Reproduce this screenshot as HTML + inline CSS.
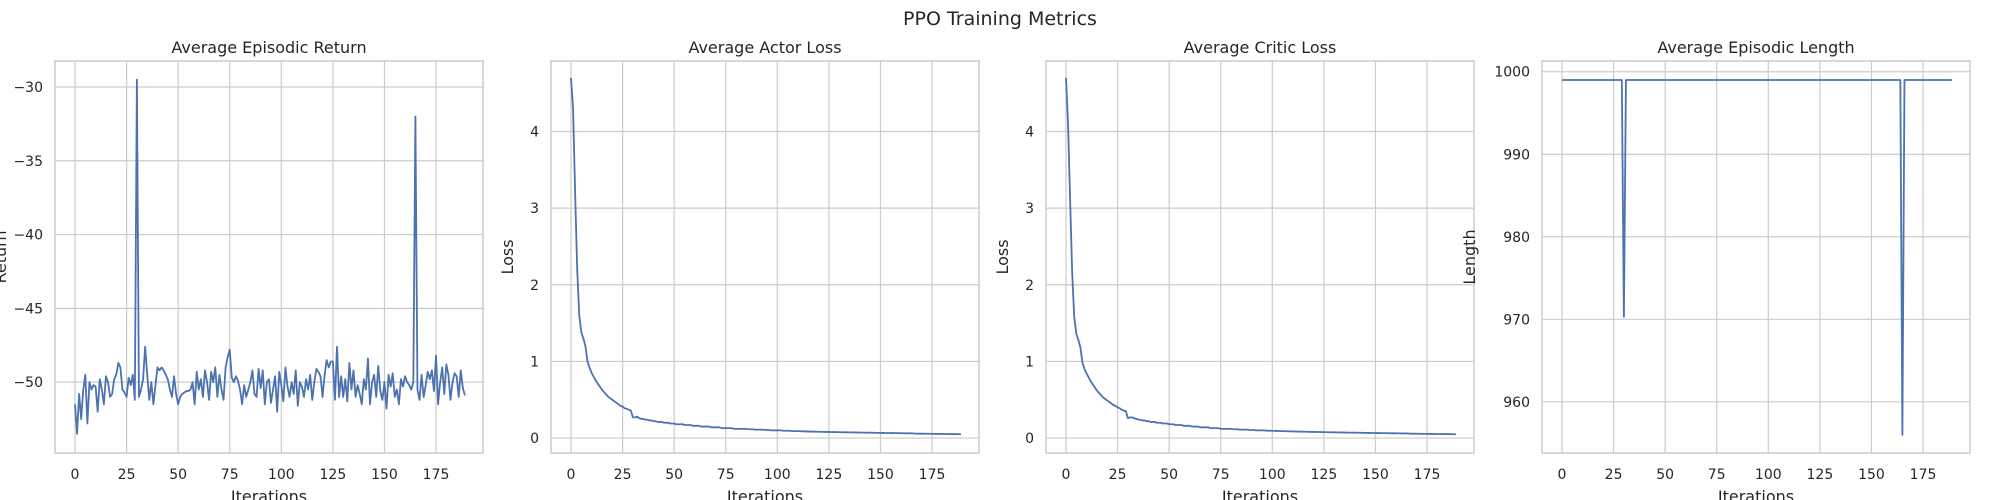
<!DOCTYPE html>
<html><head><meta charset="utf-8">
<style>
html,body{margin:0;padding:0;background:#fff;}
svg{display:block;font-family:"DejaVu Sans","Liberation Sans",sans-serif;}
</style></head>
<body>
<svg id="fig" width="2000" height="500" viewBox="0 0 2000 500">
<text x="1000" y="25" text-anchor="middle" font-size="19" fill="#262626">PPO Training Metrics</text>
</svg>
<script>
const iterTicks = [0,25,50,75,100,125,150,175];
const returnValues = [-51.5,-53.5,-50.8,-52.5,-50.5,-49.5,-52.8,-50.0,-50.5,-50.2,
-50.3,-52.0,-49.8,-50.5,-51.5,-49.6,-50.0,-51.0,-50.8,-49.8,
-49.5,-48.7,-49.0,-50.5,-50.7,-51.0,-49.7,-50.2,-49.5,-51.2,
-29.5,-51.0,-50.5,-49.8,-47.6,-49.5,-51.2,-50.0,-51.5,-50.2,
-49.0,-49.2,-49.0,-49.2,-49.5,-49.8,-50.5,-51.0,-49.6,-50.8,
-51.5,-51.0,-50.8,-50.7,-50.6,-50.6,-50.5,-50.0,-51.5,-49.3,
-50.5,-49.8,-51.0,-49.2,-50.0,-51.2,-49.3,-50.0,-49.0,-51.0,
-49.5,-50.5,-51.2,-49.0,-48.3,-47.8,-49.7,-50.0,-49.6,-49.9,
-50.5,-51.5,-50.2,-51.0,-50.5,-50.0,-49.2,-50.8,-51.0,-49.1,
-50.4,-49.2,-51.5,-50.0,-49.8,-51.4,-50.5,-49.6,-52.0,-49.3,
-50.2,-51.3,-49.0,-50.3,-51.0,-50.0,-50.8,-49.2,-51.6,-50.0,
-50.3,-51.0,-49.8,-50.5,-49.5,-51.2,-50.0,-49.1,-49.3,-49.6,
-51.0,-49.5,-48.5,-49.0,-48.6,-48.6,-51.2,-47.6,-51.0,-49.6,
-51.0,-49.8,-51.3,-48.7,-50.5,-49.2,-51.0,-50.2,-50.8,-51.5,
-49.8,-50.5,-48.4,-51.5,-50.0,-49.5,-51.0,-48.9,-50.6,-51.2,
-50.0,-51.8,-49.5,-50.3,-49.4,-51.0,-50.5,-51.5,-49.8,-50.3,
-49.6,-50.0,-50.2,-50.5,-50.0,-32.0,-50.5,-51.2,-49.5,-51.0,
-50.2,-49.3,-49.8,-49.2,-50.6,-48.2,-51.5,-50.0,-49.0,-50.8,
-48.8,-49.5,-51.2,-50.0,-49.4,-49.6,-51.0,-49.2,-50.4,-50.9];
const actorLoss = [4.7,4.3,3.2,2.2,1.6,1.38,1.3,1.2,1.0,0.92,
0.85,0.8,0.75,0.71,0.67,0.63,0.6,0.57,0.54,0.52,
0.5,0.48,0.46,0.44,0.42,0.41,0.39,0.38,0.37,0.36,
0.27,0.27,0.28,0.26,0.25,0.25,0.24,0.24,0.23,0.23,
0.22,0.22,0.21,0.21,0.21,0.2,0.2,0.2,0.19,0.19,
0.19,0.18,0.18,0.18,0.18,0.17,0.17,0.17,0.17,0.16,
0.16,0.16,0.16,0.15,0.15,0.15,0.15,0.15,0.14,0.14,
0.14,0.14,0.14,0.13,0.13,0.13,0.13,0.13,0.13,0.12,
0.12,0.12,0.12,0.12,0.12,0.12,0.115,0.115,0.115,0.11,
0.11,0.11,0.11,0.11,0.105,0.105,0.105,0.1,0.1,0.1,
0.1,0.1,0.1,0.095,0.095,0.095,0.095,0.09,0.09,0.09,
0.09,0.09,0.088,0.088,0.086,0.086,0.085,0.085,0.084,0.083,
0.082,0.082,0.081,0.08,0.08,0.08,0.079,0.078,0.078,0.077,
0.077,0.076,0.076,0.075,0.075,0.074,0.074,0.073,0.073,0.072,
0.072,0.071,0.071,0.07,0.07,0.07,0.069,0.069,0.068,0.068,
0.067,0.067,0.066,0.066,0.066,0.065,0.065,0.064,0.064,0.064,
0.063,0.063,0.062,0.062,0.062,0.061,0.061,0.058,0.058,0.057,
0.057,0.057,0.056,0.056,0.056,0.055,0.055,0.055,0.054,0.054,
0.054,0.053,0.053,0.053,0.052,0.052,0.052,0.051,0.051,0.05];
const criticLoss = [4.7,4.1,3.1,2.15,1.58,1.36,1.28,1.18,0.98,0.9,
0.84,0.79,0.74,0.7,0.66,0.62,0.59,0.56,0.53,0.51,
0.49,0.47,0.45,0.43,0.42,0.4,0.39,0.37,0.36,0.35,
0.26,0.27,0.27,0.26,0.25,0.24,0.24,0.23,0.23,0.22,
0.22,0.21,0.21,0.21,0.2,0.2,0.2,0.19,0.19,0.19,
0.18,0.18,0.18,0.17,0.17,0.17,0.17,0.16,0.16,0.16,
0.16,0.15,0.15,0.15,0.15,0.14,0.14,0.14,0.14,0.14,
0.13,0.13,0.13,0.13,0.13,0.12,0.12,0.12,0.12,0.12,
0.12,0.115,0.115,0.115,0.11,0.11,0.11,0.11,0.11,0.105,
0.105,0.105,0.1,0.1,0.1,0.1,0.1,0.098,0.096,0.095,
0.095,0.094,0.093,0.092,0.09,0.09,0.09,0.089,0.088,0.087,
0.086,0.086,0.085,0.085,0.084,0.083,0.082,0.082,0.081,0.08,
0.08,0.08,0.079,0.078,0.078,0.077,0.077,0.076,0.076,0.075,
0.075,0.074,0.074,0.073,0.073,0.072,0.072,0.071,0.071,0.07,
0.07,0.07,0.069,0.069,0.068,0.068,0.067,0.067,0.066,0.066,
0.066,0.065,0.065,0.064,0.064,0.064,0.063,0.063,0.062,0.062,
0.062,0.061,0.061,0.06,0.06,0.06,0.059,0.057,0.057,0.057,
0.056,0.056,0.056,0.055,0.055,0.055,0.054,0.054,0.054,0.053,
0.053,0.053,0.052,0.052,0.052,0.051,0.051,0.051,0.05,0.05];
const lengthValues = [];
for (let i = 0; i < 190; i++) lengthValues.push(999);
lengthValues[30] = 970.3;
lengthValues[165] = 956.0;
const returnTicks = [-50,-45,-40,-35,-30];
const lossTicks = [0,1,2,3,4];
const lengthTicks = [960,970,980,990,1000];

const NS = "http://www.w3.org/2000/svg";
const svg = document.getElementById('fig');
function mk(tag, attrs, parent){const e=document.createElementNS(NS,tag);for(const k in attrs)e.setAttribute(k,attrs[k]);(parent||svg).appendChild(e);return e;}

const panels = [
 {left:55, title:'Average Episodic Return', ylabel:'Return', ylabX:6, data:returnValues, ymin:-54.8, ymax:-28.24, ticks:returnTicks, key:'return'},
 {left:551, title:'Average Actor Loss', ylabel:'Loss', ylabX:513, data:actorLoss, ymin:-0.195, ymax:4.92, ticks:lossTicks, key:'actor-loss'},
 {left:1046, title:'Average Critic Loss', ylabel:'Loss', ylabX:1008, data:criticLoss, ymin:-0.195, ymax:4.92, ticks:lossTicks, key:'critic-loss'},
 {left:1542, title:'Average Episodic Length', ylabel:'Length', ylabX:1475, data:lengthValues, ymin:953.8, ymax:1001.3, ticks:lengthTicks, key:'length'}
];
const W=428, TOP=61, BOT=453;
panels.forEach(p=>{
  const g = mk('g',{});
  
  
  const xS = v => p.left + 20 + v*2.063;
  const yS = v => BOT - (v - p.ymin)/(p.ymax - p.ymin)*(BOT-TOP);
  iterTicks.forEach(t=>{
    const l = mk('line',{x1:xS(t),x2:xS(t),y1:TOP,y2:BOT,stroke:'#cccccc','stroke-width':1.2},g);
    
    
    const tx = mk('text',{x:xS(t),y:479,'text-anchor':'middle','font-size':14,fill:'#262626'},g);
    
    
    tx.textContent = t;
  });
  p.ticks.forEach(t=>{
    const y=yS(t);
    const l = mk('line',{x1:p.left,x2:p.left+W,y1:y,y2:y,stroke:'#cccccc','stroke-width':1.2},g);
    
    
    const tx = mk('text',{x:p.left-12,y:y+5,'text-anchor':'end','font-size':14,fill:'#262626'},g);
    
    
    tx.textContent = t<0 ? '\u2212'+Math.abs(t) : t;
  });
  const fr = mk('rect',{x:p.left,y:TOP,width:W,height:BOT-TOP,fill:'none',stroke:'#cccccc','stroke-width':1.5},g);
  
  
  const pts = p.data.map((v,i)=>xS(i).toFixed(2)+','+yS(v).toFixed(2)).join(' ');
  const pl = mk('polyline',{points:pts,fill:'none',stroke:'#4c72b0','stroke-width':1.8,'stroke-linejoin':'round'},g);
  
  
  const tt = mk('text',{x:p.left+W/2,y:53,'text-anchor':'middle','font-size':16,fill:'#262626'},g);
  
  
  tt.textContent = p.title;
  const xl = mk('text',{x:p.left+W/2,y:502,'text-anchor':'middle','font-size':16,fill:'#262626'},g);
  
  
  xl.textContent = 'Iterations';
  const yc = (TOP+BOT)/2;
  const yl = mk('text',{x:p.ylabX,y:yc,'text-anchor':'middle','font-size':16,fill:'#262626',transform:'rotate(-90 '+p.ylabX+' '+yc+')'},g);
  
  
  yl.textContent = p.ylabel;
});
</script>
</body></html>
